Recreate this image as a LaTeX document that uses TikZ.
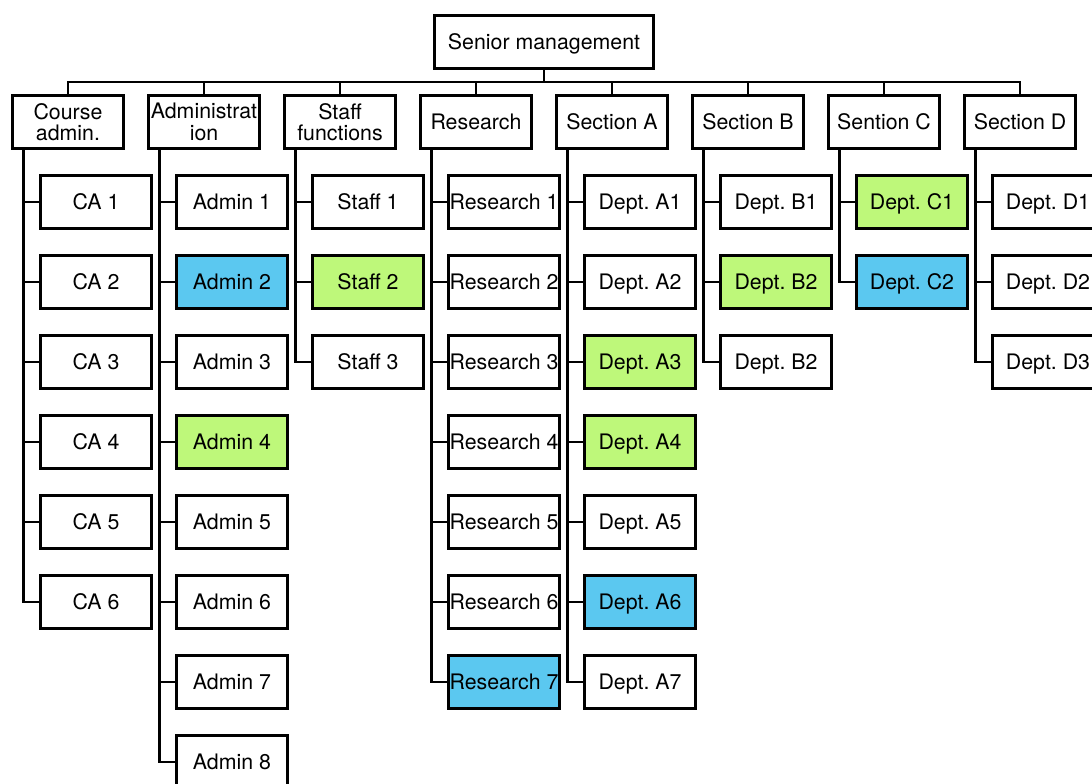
\documentclass[tikz,border=0pt]{standalone}
\usepackage{fontspec}
\setmainfont{TeX Gyre Heros}
\usetikzlibrary{calc}
\definecolor{hlblue}{RGB}{91,200,240}
\definecolor{hlgreen}{RGB}{190,248,122}
\frenchspacing
\begin{document}
\begin{tikzpicture}[x=0.75pt,y=-0.75pt,
  base/.style={draw,line width=1.8pt,minimum width=83pt,minimum height=40pt,
    inner sep=0pt,font=\fontsize{16}{16}\selectfont,align=center,fill=white},
  box/.style={base,text height=11.5pt,text depth=0pt},
  bluebox/.style={box,fill=hlblue},
  greenbox/.style={box,fill=hlgreen},
  link/.style={line width=1.9pt}]
\useasboundingbox (0,0) rectangle (1092,784);
% top
\node[box,minimum width=164.5pt] (top) at (544,42) {Senior management};
% level 1
\node[base] (ca)  at (68,122)   {Course\\admin.};
\node[base] (adm) at (204,122)  {Administrat\\ion};
\node[base] (stf) at (340,122)  {Staff\\functions};
\node[box] (res) at (476,122)  {Research};
\node[box] (sa)  at (612,122)  {Section A};
\node[box] (sb)  at (748,122)  {Section B};
\node[box] (sc)  at (884,122)  {Sention C};
\node[box] (sd)  at (1020,122) {Section D};
% course admin
\node[box] (ca1) at (96,202) {CA 1};
\node[box] (ca2) at (96,282) {CA 2};
\node[box] (ca3) at (96,362) {CA 3};
\node[box] (ca4) at (96,442) {CA 4};
\node[box] (ca5) at (96,522) {CA 5};
\node[box] (ca6) at (96,602) {CA 6};
% administration
\node[box]      (adm1) at (232,202) {Admin 1};
\node[bluebox]  (adm2) at (232,282) {Admin 2};
\node[box]      (adm3) at (232,362) {Admin 3};
\node[greenbox] (adm4) at (232,442) {Admin 4};
\node[box]      (adm5) at (232,522) {Admin 5};
\node[box]      (adm6) at (232,602) {Admin 6};
\node[box]      (adm7) at (232,682) {Admin 7};
\node[box]      (adm8) at (232,762) {Admin 8};
% staff
\node[box]      (stf1) at (368,202) {Staff 1};
\node[greenbox] (stf2) at (368,282) {Staff 2};
\node[box]      (stf3) at (368,362) {Staff 3};
% research
\node[box]     (res1) at (504,202) {Research 1};
\node[box]     (res2) at (504,282) {Research 2};
\node[box]     (res3) at (504,362) {Research 3};
\node[box]     (res4) at (504,442) {Research 4};
\node[box]     (res5) at (504,522) {Research 5};
\node[box]     (res6) at (504,602) {Research 6};
\node[bluebox] (res7) at (504,682) {Research 7};
% section A
\node[box]      (sa1) at (640,202) {Dept. A1};
\node[box]      (sa2) at (640,282) {Dept. A2};
\node[greenbox] (sa3) at (640,362) {Dept. A3};
\node[greenbox] (sa4) at (640,442) {Dept. A4};
\node[box]      (sa5) at (640,522) {Dept. A5};
\node[bluebox]  (sa6) at (640,602) {Dept. A6};
\node[box]      (sa7) at (640,682) {Dept. A7};
% section B
\node[box]      (sb1) at (776,202) {Dept. B1};
\node[greenbox] (sb2) at (776,282) {Dept. B2};
\node[box]      (sb3) at (776,362) {Dept. B2};
% section C
\node[greenbox] (sc1) at (912,202) {Dept. C1};
\node[bluebox]  (sc2) at (912,282) {Dept. C2};
% section D
\node[box] (sd1) at (1048,202) {Dept. D1};
\node[box] (sd2) at (1048,282) {Dept. D2};
\node[box] (sd3) at (1048,362) {Dept. D3};
% bus connectors
\foreach \p in {ca,adm,stf,res,sa,sb,sc,sd}
  \draw[link] (top.south) -- ++(0,12) -| (\p.north);
% trunk connectors
\foreach \p/\n in {ca/6,adm/8,stf/3,res/7,sa/7,sb/3,sc/2,sd/3}
  \foreach \i in {1,...,\n}
    \draw[link] ($(\p.south west)+(12,0)$) |- (\p\i.west);
\end{tikzpicture}
\end{document}
